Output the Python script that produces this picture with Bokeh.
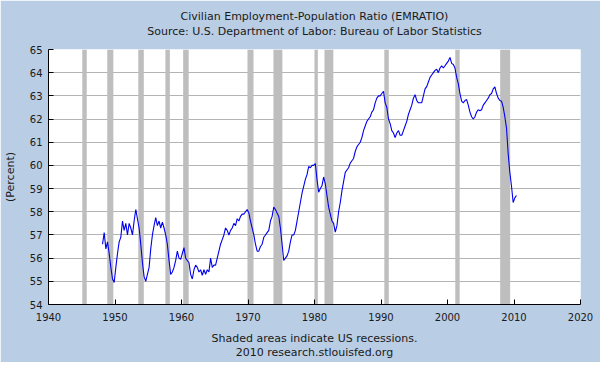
from bokeh.plotting import figure
from bokeh.models import Range1d, FixedTicker, ColumnDataSource, LinearAxis
from bokeh.embed import file_html
from bokeh.resources import INLINE

# ---------------- data ----------------
title_lines = ["Civilian Employment-Population Ratio (EMRATIO)",
               "Source: U.S. Department of Labor: Bureau of Labor Statistics"]
note_lines = ["Shaded areas indicate US recessions.",
              "2010 research.stlouisfed.org"]
y_axis_label = "(Percent)"

x_ticks = [1940, 1950, 1960, 1970, 1980, 1990, 2000, 2010, 2020]
y_ticks = [54, 55, 56, 57, 58, 59, 60, 61, 62, 63, 64, 65]

# NBER recessions (decimal years)
rec_start = [1945.08, 1948.83, 1953.50, 1957.58, 1960.25, 1969.92,
             1973.83, 1980.00, 1981.50, 1990.50, 2001.17, 2007.92]
rec_end = [1945.75, 1949.75, 1954.33, 1958.25, 1961.08, 1970.83,
           1975.17, 1980.50, 1982.83, 1991.17, 2001.83, 2009.42]

# Quarterly EMRATIO (%), first quarter 1948 Q1
first_year = 1948
emratio_q = [
    56.6, 57.1, 56.4, 56.7,    # 1948
    56.2, 55.6, 55.1, 54.95,   # 1949
    55.6, 56.2, 56.7, 56.9,    # 1950
    57.6, 57.2, 57.5, 57.0,    # 1951
    57.5, 57.3, 57.0, 57.6,    # 1952
    58.1, 57.7, 57.3, 56.6,    # 1953
    55.8, 55.2, 55.0, 55.3,    # 1954
    55.6, 56.4, 57.0, 57.4,    # 1955
    57.75, 57.4, 57.6, 57.3,   # 1956
    57.55, 57.3, 57.0, 56.6,   # 1957
    55.9, 55.3, 55.4, 55.6,    # 1958
    55.9, 56.3, 56.0, 55.95,   # 1959
    56.2, 56.45, 56.0, 55.9,   # 1960
    55.8, 55.3, 55.1, 55.5,    # 1961
    55.7, 55.6, 55.4, 55.5,    # 1962
    55.26, 55.5, 55.3, 55.5,   # 1963
    55.4, 56.0, 55.6, 55.7,    # 1964
    55.7, 56.0, 56.3, 56.6,    # 1965
    56.8, 57.0, 57.3, 57.2,    # 1966
    57.0, 57.2, 57.3, 57.5,    # 1967
    57.4, 57.7, 57.6, 57.8,    # 1968
    57.9, 57.9, 58.0, 58.1,    # 1969
    57.95, 57.6, 57.3, 57.0,   # 1970
    56.6, 56.3, 56.3, 56.5,    # 1971
    56.6, 56.9, 57.0, 57.1,    # 1972
    57.2, 57.6, 57.8, 58.2,    # 1973
    58.1, 57.95, 57.8, 57.3,   # 1974
    56.6, 55.9, 56.0, 56.1,    # 1975
    56.3, 56.7, 57.0, 57.0,    # 1976
    57.2, 57.6, 58.0, 58.4,    # 1977
    58.8, 59.1, 59.4, 59.6,    # 1978
    59.95, 59.9, 60.0, 60.0,   # 1979
    60.08, 59.4, 58.84, 59.0,  # 1980
    59.12, 59.5, 59.2, 58.7,   # 1981
    58.2, 57.9, 57.6, 57.5,    # 1982
    57.12, 57.4, 58.0, 58.4,   # 1983
    58.9, 59.3, 59.7, 59.8,    # 1984
    59.9, 60.1, 60.2, 60.3,    # 1985
    60.6, 60.8, 60.9, 61.0,    # 1986
    61.2, 61.5, 61.7, 61.9,    # 1987
    62.0, 62.1, 62.3, 62.4,    # 1988
    62.7, 62.9, 63.0, 63.0,    # 1989
    63.1, 63.2, 62.7, 62.5,    # 1990
    62.0, 61.8, 61.5, 61.4,    # 1991
    61.2, 61.4, 61.5, 61.3,    # 1992
    61.3, 61.5, 61.7, 61.9,    # 1993
    62.2, 62.4, 62.6, 62.9,    # 1994
    63.05, 62.8, 62.7, 62.7,   # 1995
    62.7, 63.0, 63.3, 63.4,    # 1996
    63.6, 63.8, 63.9, 64.0,    # 1997
    64.1, 64.15, 64.0, 64.2,   # 1998
    64.3, 64.2, 64.3, 64.4,    # 1999
    64.5, 64.66, 64.4, 64.35,  # 2000
    64.2, 63.8, 63.53, 63.1,   # 2001
    62.77, 62.7, 62.8, 62.84,  # 2002
    62.6, 62.3, 62.1, 62.0,    # 2003
    62.1, 62.3, 62.4, 62.36,   # 2004
    62.4, 62.6, 62.7, 62.8,    # 2005
    62.9, 63.05, 63.1, 63.3,   # 2006
    63.39, 63.1, 62.9, 62.8,   # 2007
    62.77, 62.5, 62.1, 61.6,   # 2008
    60.5, 59.7, 59.1, 58.4,    # 2009
    58.6, 58.7,                # 2010
]
quarter_dates = [first_year + 0.125 + 0.25 * i for i in range(len(emratio_q))]

# ---------------- style ----------------
BG = "#B9CDE4"
FONT = "DejaVu Sans"
TXT = "#1a1a1a"

p = figure(width=600, height=362,
           x_range=Range1d(x_ticks[0], x_ticks[-1]),
           y_range=Range1d(y_ticks[0], y_ticks[-1]),
           output_backend="svg", toolbar_location=None, title=None,
           min_border_left=44, min_border_right=20,
           min_border_top=49, min_border_bottom=58,
           background_fill_color="white", border_fill_color=BG,
           outline_line_color=None)

p.ygrid.grid_line_color = "#B4B4B4"
p.xgrid.visible = False

def label_style(ax):
    ax.axis_label_text_font = FONT
    ax.axis_label_text_font_size = "11px"
    ax.axis_label_text_font_style = "normal"
    ax.axis_label_text_color = TXT

for ax, ticks in ((p.xaxis, x_ticks), (p.yaxis, y_ticks)):
    ax.ticker = FixedTicker(ticks=ticks)
    ax.axis_line_color = "black"
    ax.major_tick_line_color = "black"
    ax.major_tick_in = 5
    ax.major_tick_out = 0
    ax.minor_tick_line_color = None
    ax.major_label_text_font = FONT
    ax.major_label_text_font_size = "10px"
    ax.major_label_text_color = TXT
    label_style(ax)

p.xaxis.major_label_standoff = 8
p.yaxis.major_label_standoff = 6

p.yaxis.axis_label = y_axis_label
p.yaxis.axis_label_standoff = 10

# notes under the chart as the x axis label (two centred lines)
p.xaxis.axis_label = "\n".join(note_lines)
p.xaxis.axis_label_standoff = 8
p.xaxis.axis_label_text_line_height = 1.13

# title lines as the label of an empty axis above the plot (centred lines)
top_axis = LinearAxis(ticker=FixedTicker(ticks=[]),
                      axis_line_color=None, major_tick_line_color=None,
                      minor_tick_line_color=None, major_tick_in=0,
                      major_tick_out=0, major_label_standoff=0,
                      axis_label="\n".join(title_lines),
                      axis_label_standoff=12,
                      axis_label_text_line_height=1.08)
label_style(top_axis)
p.add_layout(top_axis, "above")

rec_src = ColumnDataSource(dict(left=rec_start, right=rec_end))
p.quad(left="left", right="right", bottom=y_ticks[0], top=y_ticks[-1],
       source=rec_src, fill_color="#BEBEBE", line_color=None)

line_src = ColumnDataSource(dict(x=quarter_dates, y=emratio_q))
p.line("x", "y", source=line_src, line_color="#0000EE", line_width=1.1)

open("out.html", "w").write(file_html(p, INLINE))
